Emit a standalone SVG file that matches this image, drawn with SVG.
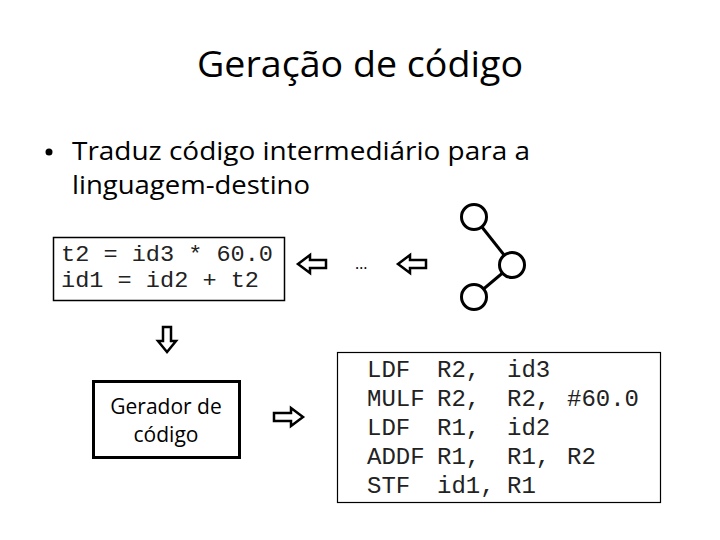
<svg xmlns="http://www.w3.org/2000/svg" width="720" height="540" viewBox="0 0 720 540">
<style>
.sans{font-family:"Open Sans","Liberation Sans",sans-serif;fill:#000}
.mono{font-family:"Liberation Mono","DejaVu Sans Mono",monospace;fill:#222;font-size:24px}
.src{font-size:22px}
.box{fill:#fff;stroke:#000}
.arrow{fill:#fff;stroke:#000;stroke-width:2.5;stroke-linejoin:miter}
.node{fill:#fff;stroke:#000;stroke-width:3}
.edge{stroke:#000;stroke-width:3}
</style>
<rect width="720" height="540" fill="#fff"/>
<text class="sans" x="197" y="77" font-size="36" textLength="326" lengthAdjust="spacingAndGlyphs">Geração de código</text>
<circle cx="49" cy="152" r="3.5" fill="#000"/>
<text class="sans" x="72" y="160" font-size="26" textLength="458" lengthAdjust="spacingAndGlyphs">Traduz código intermediário para a</text>
<text class="sans" x="72" y="194" font-size="26" textLength="238" lengthAdjust="spacingAndGlyphs">linguagem-destino</text>

<g id="source">
<rect class="box" x="53.5" y="237.5" width="231" height="63" stroke-width="1.5"/>
<text class="mono src" x="61" y="261" textLength="212" lengthAdjust="spacingAndGlyphs">t2 = id3 * 60.0</text>
<text class="mono src" x="61" y="287" textLength="198" lengthAdjust="spacingAndGlyphs">id1 = id2 + t2</text>
</g>

<g id="ellipsis">
<text class="sans" x="355" y="269" font-size="16">…</text>
</g>

<g id="tree">
<line class="edge" x1="474" y1="217" x2="512" y2="265"/>
<line class="edge" x1="512" y1="265" x2="474" y2="297"/>
<circle class="node" cx="474" cy="217" r="12.5"/>
<circle class="node" cx="512" cy="265" r="12.5"/>
<circle class="node" cx="474" cy="297" r="12.5"/>
</g>

<g id="generator">
<rect class="box" x="93.5" y="381.5" width="146" height="76" stroke-width="3"/>
<text class="sans" x="166" y="414" font-size="21" text-anchor="middle">Gerador de</text>
<text class="sans" x="166" y="442" font-size="21" text-anchor="middle">código</text>
</g>

<g id="target">
<rect class="box" x="337.5" y="352.5" width="323" height="150" stroke-width="1.2"/>
<g class="mono">
<text x="367" y="377">LDF</text><text x="437" y="377">R2,</text><text x="507" y="377">id3</text>
<text x="367" y="406">MULF</text><text x="437" y="406">R2,</text><text x="507" y="406">R2,</text><text x="567" y="406">#60.0</text>
<text x="367" y="435">LDF</text><text x="437" y="435">R1,</text><text x="507" y="435">id2</text>
<text x="367" y="464">ADDF</text><text x="437" y="464">R1,</text><text x="507" y="464">R1,</text><text x="567" y="464">R2</text>
<text x="367" y="493">STF</text><text x="437" y="493">id1,</text><text x="507" y="493">R1</text>
</g>
</g>

<g id="connectors">
<path class="arrow" d="M298,264 L310,255 L310,260 L326,260 L326,268 L310,268 L310,273 Z"/>
<path class="arrow" d="M398,264 L410,255 L410,260 L426,260 L426,268 L410,268 L410,273 Z"/>
<path class="arrow" d="M167,352 L158,341 L163,341 L163,327 L171,327 L171,341 L176,341 Z"/>
<path class="arrow" d="M303,417 L291,408 L291,413 L274,413 L274,421 L291,421 L291,426 Z"/>
</g>
</svg>
